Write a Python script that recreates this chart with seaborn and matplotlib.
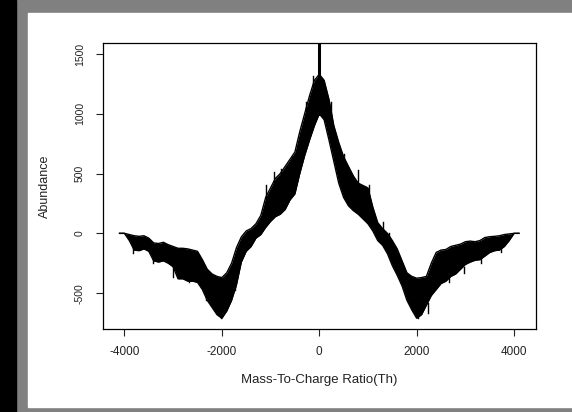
#Import Libraries
import numpy as np
import pandas as pd
import matplotlib
matplotlib.use('Agg')
import matplotlib.pyplot as plt
import seaborn as sns
from matplotlib.patches import Rectangle

#Values (envelope of the noisy spectrum)
mzValues = list(range(-4100, 4101, 100))
upperEnv = [0, 0, -10, -20, -25, -20, -40, -80, -85, -75,
            -95, -110, -125, -125, -130, -140, -150, -220, -300, -340,
            -360, -370, -330, -250, -120, -30, 20, 40, 80, 150,
            300, 380, 460, 500, 560, 620, 680, 850, 1000, 1150,
            1280, 1330, 1280, 1120, 900, 760, 640, 560, 480, 420,
            400, 380, 220, 90, 40, 0, -60, -130, -230, -330,
            -360, -375, -370, -360, -250, -160, -140, -135, -110, -100,
            -90, -70, -65, -70, -60, -35, -28, -25, -20, -10,
            -5, 0, 0]
lowerEnv = [0, 0, -60, -140, -145, -130, -150, -230, -240, -230,
            -250, -280, -380, -380, -400, -400, -410, -470, -560, -620,
            -680, -710, -650, -560, -430, -240, -150, -110, -40, -10,
            50, 100, 140, 160, 200, 280, 330, 500, 650, 780,
            900, 1000, 950, 780, 600, 420, 300, 230, 190, 160,
            120, 80, 20, -60, -100, -170, -270, -350, -440, -560,
            -640, -710, -680, -600, -520, -470, -420, -400, -360, -340,
            -300, -260, -240, -225, -220, -190, -160, -145, -140, -110,
            -60, 0, 0]
#single spikes sticking out of the band (tip and where they leave the band)
spikeMz = [-3830, -3418, -3007, -2665, -2322, -2014, -1720,
           -1089, -932, -781, -555, -267, -131,
           239, 513, 787, 1027, 1301, 1438,
           1814, 2020, 2225, 2671, 2979, 3321, 3732]
spikeTip = [-161, -245, -361, -411, -556, -708, -472,
            402, 514, 541, 639, 1097, 1319,
            1097, 667, 528, 403, 97, 0,
            -472, -708, -667, -403, -333, -250, -153]
spikeBase = [-100, -200, -250, -350, -480, -600, -400,
             250, 400, 450, 550, 950, 1200,
             950, 560, 420, 300, 0, -60,
             -400, -600, -580, -340, -280, -200, -110]
peakMz = [0, 0]
peakAbundance = [1000, 1583]

xTicks = [-4000, -2000, 0, 2000, 4000]
yTicks = [-500, 0, 500, 1000, 1500]

spectrumDf = pd.DataFrame({'mz': mzValues, 'upper': upperEnv, 'lower': lowerEnv})
spikeDf = pd.DataFrame({'mz': spikeMz + spikeMz,
                        'abundance': spikeBase + spikeTip,
                        'spike': list(range(len(spikeMz))) * 2})
peakDf = pd.DataFrame({'mz': peakMz, 'abundance': peakAbundance, 'spike': [0, 0]})

plt.rcParams['font.family'] = ['Liberation Sans', 'DejaVu Sans']

fig = plt.figure(figsize = (5.72, 4.12), dpi = 100)
fig.patch.set_facecolor('#808080')
W, H = 572, 412
#black strip on the left and white inner panel
fig.patches.append(Rectangle((0, 0), 16 / W, 1, transform = fig.transFigure, color = 'black', zorder = -10))
fig.patches.append(Rectangle((27.5 / W, (H - 406.5) / H), 1, (406.5 - 12.7) / H,
                             transform = fig.transFigure, color = 'white', zorder = -10))

ax = fig.add_axes([103 / W, (H - 329) / H, 432.5 / W, 286 / H])
ax.set_zorder(5)
ax.set_facecolor('white')

ax.fill_between(spectrumDf['mz'], spectrumDf['lower'], spectrumDf['upper'], color = 'black', linewidth = 0)
sns.lineplot(data = spectrumDf, x = 'mz', y = 'upper', color = 'black', linewidth = 1, ax = ax)
sns.lineplot(data = spectrumDf, x = 'mz', y = 'lower', color = 'black', linewidth = 1, ax = ax)
sns.lineplot(data = spikeDf, x = 'mz', y = 'abundance', units = 'spike', estimator = None,
             color = 'black', linewidth = 1, ax = ax)
sns.lineplot(data = peakDf, x = 'mz', y = 'abundance', units = 'spike', estimator = None,
             color = 'black', linewidth = 2.2, ax = ax)

ax.set_xlim(-4440, 4440)
ax.set_ylim(-800, 1592)
ax.set_xticks(xTicks)
ax.set_yticks(yTicks)
ax.set_xticklabels([str(t) for t in xTicks])
ax.set_yticklabels([str(t) for t in yTicks], rotation = 90, va = 'center')
ax.tick_params(axis = 'x', length = 5, width = 0.8, pad = 7, labelsize = 8.5, colors = '#222222')
ax.tick_params(axis = 'y', length = 5, width = 0.8, pad = 8, labelsize = 7.5, colors = '#222222')
ax.set_xlabel('Mass-To-Charge Ratio(Th)', fontsize = 9.5, labelpad = 12, color = '#222222')
ax.set_ylabel('Abundance', fontsize = 9, labelpad = 17, color = '#222222')
for spine in ax.spines.values():
    spine.set_linewidth(0.9)
    spine.set_color('black')

fig.savefig('out.png', dpi = 100, facecolor = fig.get_facecolor())
